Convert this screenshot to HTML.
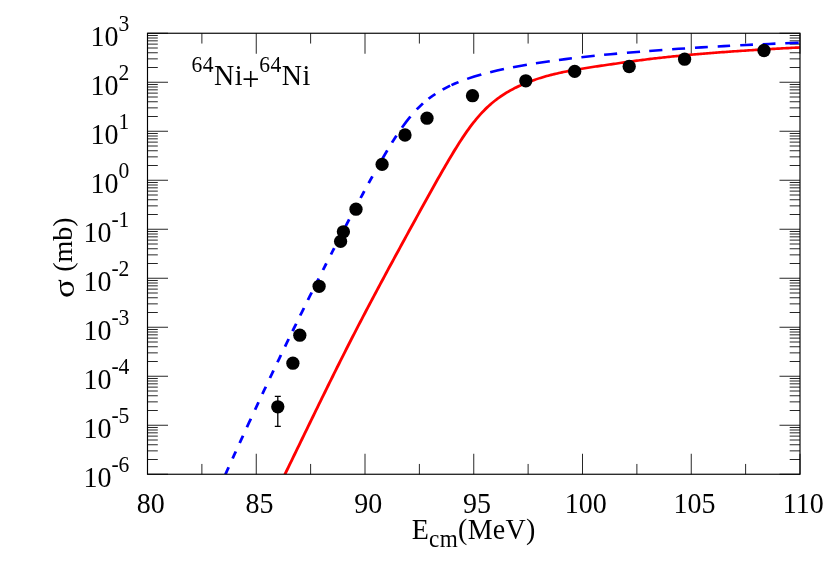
<!DOCTYPE html>
<html><head><meta charset="utf-8"><title>chart</title>
<style>html,body{margin:0;padding:0;background:#fff}svg{display:block}</style></head>
<body>
<svg width="830" height="581" viewBox="0 0 830 581">
<rect width="830" height="581" fill="#fff"/>
<defs><clipPath id="c"><rect x="147.5" y="33.25" width="652.5" height="441.0"/></clipPath></defs>
<path d="M147.50,474.25v-20.5M147.50,33.25v20.5M201.88,474.25v-10.3M201.88,33.25v10.3M256.25,474.25v-20.5M256.25,33.25v20.5M310.62,474.25v-10.3M310.62,33.25v10.3M365.00,474.25v-20.5M365.00,33.25v20.5M419.38,474.25v-10.3M419.38,33.25v10.3M473.75,474.25v-20.5M473.75,33.25v20.5M528.12,474.25v-10.3M528.12,33.25v10.3M582.50,474.25v-20.5M582.50,33.25v20.5M636.88,474.25v-10.3M636.88,33.25v10.3M691.25,474.25v-20.5M691.25,33.25v20.5M745.62,474.25v-10.3M745.62,33.25v10.3M800.00,474.25v-20.5M800.00,33.25v20.5M147.5,474.25h20.5M800.0,474.25h-20.5M147.5,459.50h10.3M800.0,459.50h-10.3M147.5,450.87h10.3M800.0,450.87h-10.3M147.5,444.75h10.3M800.0,444.75h-10.3M147.5,440.00h10.3M800.0,440.00h-10.3M147.5,436.12h10.3M800.0,436.12h-10.3M147.5,432.84h10.3M800.0,432.84h-10.3M147.5,430.00h10.3M800.0,430.00h-10.3M147.5,427.49h10.3M800.0,427.49h-10.3M147.5,425.25h20.5M800.0,425.25h-20.5M147.5,410.50h10.3M800.0,410.50h-10.3M147.5,401.87h10.3M800.0,401.87h-10.3M147.5,395.75h10.3M800.0,395.75h-10.3M147.5,391.00h10.3M800.0,391.00h-10.3M147.5,387.12h10.3M800.0,387.12h-10.3M147.5,383.84h10.3M800.0,383.84h-10.3M147.5,381.00h10.3M800.0,381.00h-10.3M147.5,378.49h10.3M800.0,378.49h-10.3M147.5,376.25h20.5M800.0,376.25h-20.5M147.5,361.50h10.3M800.0,361.50h-10.3M147.5,352.87h10.3M800.0,352.87h-10.3M147.5,346.75h10.3M800.0,346.75h-10.3M147.5,342.00h10.3M800.0,342.00h-10.3M147.5,338.12h10.3M800.0,338.12h-10.3M147.5,334.84h10.3M800.0,334.84h-10.3M147.5,332.00h10.3M800.0,332.00h-10.3M147.5,329.49h10.3M800.0,329.49h-10.3M147.5,327.25h20.5M800.0,327.25h-20.5M147.5,312.50h10.3M800.0,312.50h-10.3M147.5,303.87h10.3M800.0,303.87h-10.3M147.5,297.75h10.3M800.0,297.75h-10.3M147.5,293.00h10.3M800.0,293.00h-10.3M147.5,289.12h10.3M800.0,289.12h-10.3M147.5,285.84h10.3M800.0,285.84h-10.3M147.5,283.00h10.3M800.0,283.00h-10.3M147.5,280.49h10.3M800.0,280.49h-10.3M147.5,278.25h20.5M800.0,278.25h-20.5M147.5,263.50h10.3M800.0,263.50h-10.3M147.5,254.87h10.3M800.0,254.87h-10.3M147.5,248.75h10.3M800.0,248.75h-10.3M147.5,244.00h10.3M800.0,244.00h-10.3M147.5,240.12h10.3M800.0,240.12h-10.3M147.5,236.84h10.3M800.0,236.84h-10.3M147.5,234.00h10.3M800.0,234.00h-10.3M147.5,231.49h10.3M800.0,231.49h-10.3M147.5,229.25h20.5M800.0,229.25h-20.5M147.5,214.50h10.3M800.0,214.50h-10.3M147.5,205.87h10.3M800.0,205.87h-10.3M147.5,199.75h10.3M800.0,199.75h-10.3M147.5,195.00h10.3M800.0,195.00h-10.3M147.5,191.12h10.3M800.0,191.12h-10.3M147.5,187.84h10.3M800.0,187.84h-10.3M147.5,185.00h10.3M800.0,185.00h-10.3M147.5,182.49h10.3M800.0,182.49h-10.3M147.5,180.25h20.5M800.0,180.25h-20.5M147.5,165.50h10.3M800.0,165.50h-10.3M147.5,156.87h10.3M800.0,156.87h-10.3M147.5,150.75h10.3M800.0,150.75h-10.3M147.5,146.00h10.3M800.0,146.00h-10.3M147.5,142.12h10.3M800.0,142.12h-10.3M147.5,138.84h10.3M800.0,138.84h-10.3M147.5,136.00h10.3M800.0,136.00h-10.3M147.5,133.49h10.3M800.0,133.49h-10.3M147.5,131.25h20.5M800.0,131.25h-20.5M147.5,116.50h10.3M800.0,116.50h-10.3M147.5,107.87h10.3M800.0,107.87h-10.3M147.5,101.75h10.3M800.0,101.75h-10.3M147.5,97.00h10.3M800.0,97.00h-10.3M147.5,93.12h10.3M800.0,93.12h-10.3M147.5,89.84h10.3M800.0,89.84h-10.3M147.5,87.00h10.3M800.0,87.00h-10.3M147.5,84.49h10.3M800.0,84.49h-10.3M147.5,82.25h20.5M800.0,82.25h-20.5M147.5,67.50h10.3M800.0,67.50h-10.3M147.5,58.87h10.3M800.0,58.87h-10.3M147.5,52.75h10.3M800.0,52.75h-10.3M147.5,48.00h10.3M800.0,48.00h-10.3M147.5,44.12h10.3M800.0,44.12h-10.3M147.5,40.84h10.3M800.0,40.84h-10.3M147.5,38.00h10.3M800.0,38.00h-10.3M147.5,35.49h10.3M800.0,35.49h-10.3M147.5,33.25h20.5M800.0,33.25h-20.5" stroke="#000" stroke-width="0.85" fill="none"/>
<g clip-path="url(#c)"><g transform="scale(1,0.90909)" fill="none" stroke-width="2.9">
<path d="M282.26,527.86 L283.79,524.34 L285.31,520.85 L286.84,517.39 L288.37,513.93 L289.90,510.47 L291.43,507.01 L292.96,503.54 L294.48,500.08 L296.01,496.61 L297.54,493.14 L299.07,489.68 L300.60,486.21 L302.12,482.74 L303.65,479.28 L305.18,475.82 L306.71,472.35 L308.24,468.89 L309.77,465.44 L311.29,461.98 L312.82,458.53 L314.35,455.08 L315.88,451.63 L317.41,448.18 L318.93,444.74 L320.46,441.31 L321.99,437.88 L323.52,434.45 L325.05,431.03 L326.58,427.61 L328.10,424.20 L329.63,420.79 L331.16,417.40 L332.69,414.00 L334.22,410.62 L335.74,407.24 L337.27,403.87 L338.80,400.50 L340.33,397.15 L341.86,393.80 L343.39,390.46 L344.91,387.13 L346.44,383.80 L347.97,380.49 L349.50,377.19 L351.03,373.90 L352.55,370.61 L354.08,367.34 L355.61,364.08 L357.14,360.82 L358.67,357.57 L360.20,354.34 L361.72,351.11 L363.25,347.89 L364.78,344.68 L366.31,341.47 L367.84,338.28 L369.36,335.09 L370.89,331.90 L372.42,328.73 L373.95,325.56 L375.48,322.40 L377.01,319.24 L378.53,316.09 L380.06,312.95 L381.59,309.81 L383.12,306.68 L384.65,303.55 L386.17,300.43 L387.70,297.31 L389.23,294.20 L390.76,291.09 L392.29,287.98 L393.82,284.88 L395.34,281.78 L396.87,278.69 L398.40,275.60 L399.93,272.51 L401.46,269.43 L402.99,266.35 L404.51,263.27 L406.04,260.19 L407.57,257.12 L409.10,254.05 L410.63,250.98 L412.15,247.91 L413.68,244.84 L415.21,241.78 L416.74,238.71 L418.27,235.65 L419.80,232.60 L421.32,229.54 L422.85,226.49 L424.38,223.44 L425.91,220.40 L427.44,217.36 L428.96,214.33 L430.49,211.31 L432.02,208.29 L433.55,205.28 L435.08,202.28 L436.61,199.29 L438.13,196.32 L439.66,193.35 L441.19,190.40 L442.72,187.46 L444.25,184.54 L445.77,181.64 L447.30,178.76 L448.83,175.90 L450.36,173.06 L451.89,170.26 L453.42,167.48 L454.94,164.73 L456.47,162.01 L458.00,159.33 L459.53,156.69 L461.06,154.10 L462.58,151.54 L464.11,149.04 L465.64,146.58 L467.17,144.17 L468.70,141.82 L470.23,139.53 L471.75,137.29 L473.28,135.11 L474.81,132.99 L476.34,130.93 L477.87,128.94 L479.39,127.01 L480.92,125.14 L482.45,123.33 L483.98,121.58 L485.51,119.89 L487.04,118.26 L488.56,116.69 L490.09,115.18 L491.62,113.72 L493.15,112.31 L494.68,110.95 L496.20,109.64 L497.73,108.38 L499.26,107.16 L500.79,105.99 L502.32,104.85 L503.85,103.76 L505.37,102.70 L506.90,101.68 L508.43,100.69 L509.96,99.74 L511.49,98.81 L513.01,97.92 L514.54,97.05 L516.07,96.22 L517.60,95.40 L519.13,94.62 L520.66,93.85 L522.18,93.11 L523.71,92.39 L525.24,91.69 L526.77,91.01 L528.30,90.35 L529.83,89.71 L531.35,89.08 L532.88,88.48 L534.41,87.89 L535.94,87.31 L537.47,86.76 L538.99,86.21 L540.52,85.68 L542.05,85.17 L543.58,84.67 L545.11,84.19 L546.64,83.71 L548.16,83.25 L549.69,82.81 L551.22,82.37 L552.75,81.95 L554.28,81.54 L555.80,81.14 L557.33,80.75 L558.86,80.37 L560.39,80.00 L561.92,79.63 L563.45,79.28 L564.97,78.94 L566.50,78.60 L568.03,78.27 L569.56,77.94 L571.09,77.63 L572.61,77.32 L574.14,77.02 L575.67,76.72 L577.20,76.42 L578.73,76.14 L580.26,75.85 L581.78,75.58 L583.31,75.30 L584.84,75.03 L586.37,74.77 L587.90,74.50 L589.42,74.24 L590.95,73.98 L592.48,73.73 L594.01,73.48 L595.54,73.23 L597.07,72.98 L598.59,72.73 L600.12,72.49 L601.65,72.24 L603.18,72.00 L604.71,71.75 L606.23,71.51 L607.76,71.27 L609.29,71.02 L610.82,70.78 L612.35,70.54 L613.88,70.29 L615.40,70.05 L616.93,69.81 L618.46,69.56 L619.99,69.32 L621.52,69.08 L623.04,68.84 L624.57,68.60 L626.10,68.36 L627.63,68.13 L629.16,67.89 L630.69,67.66 L632.21,67.42 L633.74,67.19 L635.27,66.97 L636.80,66.74 L638.33,66.52 L639.85,66.29 L641.38,66.08 L642.91,65.86 L644.44,65.65 L645.97,65.44 L647.50,65.23 L649.02,65.02 L650.55,64.82 L652.08,64.62 L653.61,64.42 L655.14,64.22 L656.66,64.03 L658.19,63.84 L659.72,63.65 L661.25,63.46 L662.78,63.27 L664.31,63.09 L665.83,62.91 L667.36,62.73 L668.89,62.55 L670.42,62.38 L671.95,62.20 L673.48,62.03 L675.00,61.86 L676.53,61.70 L678.06,61.53 L679.59,61.37 L681.12,61.20 L682.64,61.04 L684.17,60.88 L685.70,60.73 L687.23,60.57 L688.76,60.42 L690.29,60.26 L691.81,60.11 L693.34,59.96 L694.87,59.82 L696.40,59.67 L697.93,59.53 L699.45,59.38 L700.98,59.24 L702.51,59.10 L704.04,58.96 L705.57,58.82 L707.10,58.69 L708.62,58.55 L710.15,58.42 L711.68,58.29 L713.21,58.15 L714.74,58.02 L716.26,57.90 L717.79,57.77 L719.32,57.64 L720.85,57.52 L722.38,57.39 L723.91,57.27 L725.43,57.15 L726.96,57.03 L728.49,56.91 L730.02,56.79 L731.55,56.67 L733.07,56.55 L734.60,56.44 L736.13,56.32 L737.66,56.21 L739.19,56.10 L740.72,55.98 L742.24,55.87 L743.77,55.76 L745.30,55.65 L746.83,55.54 L748.36,55.44 L749.88,55.33 L751.41,55.22 L752.94,55.12 L754.47,55.01 L756.00,54.91 L757.53,54.81 L759.05,54.70 L760.58,54.60 L762.11,54.50 L763.64,54.40 L765.17,54.30 L766.69,54.20 L768.22,54.10 L769.75,54.00 L771.28,53.91 L772.81,53.81 L774.34,53.71 L775.86,53.62 L777.39,53.52 L778.92,53.43 L780.45,53.33 L781.98,53.24 L783.50,53.14 L785.03,53.05 L786.56,52.96 L788.09,52.87 L789.62,52.77 L791.15,52.68 L792.67,52.59 L794.20,52.50 L795.73,52.41 L797.26,52.32 L798.79,52.23 L800.32,52.14 L801.84,52.05 L803.37,51.95 L804.90,51.86 L806.43,51.77 L807.96,51.67 L809.48,51.58 L811.01,51.49 L812.54,51.40" stroke="#ff0000" stroke-linejoin="round"/>
<path d="M225.41,521.91 L227.04,517.92 L228.67,513.94 M232.64,504.28 L234.27,500.33 L235.80,496.63 M239.67,487.30 L241.40,483.14 L243.03,479.23 M246.91,469.98 L248.94,465.13 L250.88,460.53 M255.06,450.65 L256.79,446.57 L258.52,442.50 M262.39,433.42 L264.12,429.38 L265.86,425.34 M269.93,415.88 L271.76,411.64 L273.50,407.64 M277.47,398.51 L279.20,394.54 L280.93,390.58 M285.01,381.29 L286.84,377.13 L288.68,372.98 M292.55,364.25 L294.38,360.12 L296.22,356.01 M300.19,347.13 L302.12,342.82 L303.96,338.75 M307.93,329.96 L309.87,325.70 L311.70,321.66 M315.78,312.74 L317.30,309.40 L318.73,306.30 M323.01,297.01 L324.74,293.27 L326.37,289.75 M330.96,279.90 L332.59,276.42 L334.22,272.94 M338.60,263.62 L340.43,259.74 L342.16,256.09 M345.32,249.44 L347.26,245.39 L349.19,241.34 M352.96,233.50 L354.90,229.49 L356.73,225.71 M360.60,217.76 L362.44,214.02 L364.27,210.29 M368.65,201.45 L370.59,197.58 L372.42,193.94 M377.62,183.73 L379.55,179.99 L381.49,176.28 M382.61,174.15 L384.95,169.74 L387.30,165.40 M391.98,156.97 L394.22,153.06 L396.46,149.25 M401.97,140.37 L406.25,133.98 L410.42,128.21 M416.74,120.41 L419.90,116.93 L422.95,113.80 M428.56,108.66 L432.02,105.83 L435.38,103.30 M442.62,98.50 L446.39,96.30 L450.16,94.27 M451.48,93.60 L455.05,91.86 L458.51,90.29 M467.17,86.76 L474.30,84.21 L481.33,81.95 M490.19,79.39 L497.12,77.58 L503.95,75.94 M513.01,73.93 L519.94,72.51 L526.87,71.18 M535.94,69.56 L542.87,68.41 L549.79,67.31 M558.96,65.95 L565.48,65.03 L571.90,64.17 M581.38,62.96 L588.10,62.14 L594.72,61.37 M604.10,60.34 L610.62,59.65 L617.14,58.98 M626.92,58.03 L633.54,57.41 L640.06,56.82 M649.23,56.03 L655.85,55.48 L662.37,54.95 M672.15,54.20 L678.67,53.71 L685.09,53.25 M694.97,52.56 L701.39,52.13 L707.81,51.72 M717.69,51.10 L723.91,50.72 L730.12,50.36 M740.21,49.79 L746.62,49.44 L752.94,49.10 M762.62,48.60 L769.04,48.29 L775.46,47.98 M785.24,47.53 L791.96,47.23 L798.68,46.94" stroke="#0000ff" stroke-width="2.8"/>
</g></g>
<rect x="147.5" y="33.25" width="652.5" height="441.0" fill="none" stroke="#000" stroke-width="1.15"/>
<path d="M277.8,396.3V426.3M274.8,396.3h6M274.8,426.3h6" stroke="#000" stroke-width="1.3" fill="none"/>
<circle cx="277.8" cy="406.8" r="6.65" fill="#000"/>
<circle cx="292.9" cy="363.2" r="6.65" fill="#000"/>
<circle cx="299.8" cy="335.2" r="6.65" fill="#000"/>
<circle cx="319.1" cy="286.3" r="6.65" fill="#000"/>
<circle cx="340.6" cy="241.4" r="6.65" fill="#000"/>
<circle cx="343.4" cy="231.8" r="6.65" fill="#000"/>
<circle cx="356" cy="209.2" r="6.65" fill="#000"/>
<circle cx="382.1" cy="164.4" r="6.65" fill="#000"/>
<circle cx="405" cy="135" r="6.65" fill="#000"/>
<circle cx="427" cy="118.2" r="6.65" fill="#000"/>
<circle cx="472.5" cy="95.7" r="6.65" fill="#000"/>
<circle cx="525.8" cy="80.8" r="6.65" fill="#000"/>
<circle cx="574.7" cy="71.4" r="6.65" fill="#000"/>
<circle cx="629.2" cy="66.5" r="6.65" fill="#000"/>
<circle cx="684.6" cy="59.2" r="6.65" fill="#000"/>
<circle cx="764" cy="50.5" r="6.65" fill="#000"/>
<g opacity="0.999" font-family="Liberation Serif, serif" font-size="28.0" fill="#000">
<text transform="translate(150.80,512.80) scale(1,1.07)" text-anchor="middle">80</text>
<text transform="translate(259.55,512.80) scale(1,1.07)" text-anchor="middle">85</text>
<text transform="translate(368.30,512.80) scale(1,1.07)" text-anchor="middle">90</text>
<text transform="translate(477.05,512.80) scale(1,1.07)" text-anchor="middle">95</text>
<text transform="translate(585.80,512.80) scale(1,1.07)" text-anchor="middle">100</text>
<text transform="translate(694.55,512.80) scale(1,1.07)" text-anchor="middle">105</text>
<text transform="translate(803.30,512.80) scale(1,1.07)" text-anchor="middle">110</text>
<text transform="translate(129.40,487.15) scale(1,1.07)" text-anchor="end">10<tspan font-size="21.6" dy="-13.93">-6</tspan></text>
<text transform="translate(129.40,438.15) scale(1,1.07)" text-anchor="end">10<tspan font-size="21.6" dy="-13.93">-5</tspan></text>
<text transform="translate(129.40,389.15) scale(1,1.07)" text-anchor="end">10<tspan font-size="21.6" dy="-13.93">-4</tspan></text>
<text transform="translate(129.40,340.15) scale(1,1.07)" text-anchor="end">10<tspan font-size="21.6" dy="-13.93">-3</tspan></text>
<text transform="translate(129.40,291.15) scale(1,1.07)" text-anchor="end">10<tspan font-size="21.6" dy="-13.93">-2</tspan></text>
<text transform="translate(129.40,242.15) scale(1,1.07)" text-anchor="end">10<tspan font-size="21.6" dy="-13.93">-1</tspan></text>
<text transform="translate(129.40,193.15) scale(1,1.07)" text-anchor="end">10<tspan font-size="21.6" dy="-13.93">0</tspan></text>
<text transform="translate(129.40,144.15) scale(1,1.07)" text-anchor="end">10<tspan font-size="21.6" dy="-13.93">1</tspan></text>
<text transform="translate(129.40,95.15) scale(1,1.07)" text-anchor="end">10<tspan font-size="21.6" dy="-13.93">2</tspan></text>
<text transform="translate(129.40,46.15) scale(1,1.07)" text-anchor="end">10<tspan font-size="21.6" dy="-13.93">3</tspan></text>
<text transform="translate(191.60,85.30) scale(1,1.07)" text-anchor="start" letter-spacing="0.45"><tspan font-size="21.6" dy="-12.71">64</tspan><tspan dy="12.71">Ni</tspan><tspan font-size="31" dy="4.11" dx="-0.9">+</tspan><tspan font-size="21.6" dy="-16.82" dx="-0.8">64</tspan><tspan dy="12.71">Ni</tspan></text>
<text transform="translate(473.70,538.60) scale(1,1.07)" text-anchor="middle" letter-spacing="0.3">E<tspan font-size="23.2" dy="8.04">cm</tspan><tspan dy="-8.04">(MeV)</tspan></text>
<text transform="translate(73.6,298) rotate(-90) scale(1,0.82)" font-size="35">σ</text>
<text transform="translate(72.2,271.8) rotate(-90)">(mb)</text>
</g>
</svg>
</body></html>
